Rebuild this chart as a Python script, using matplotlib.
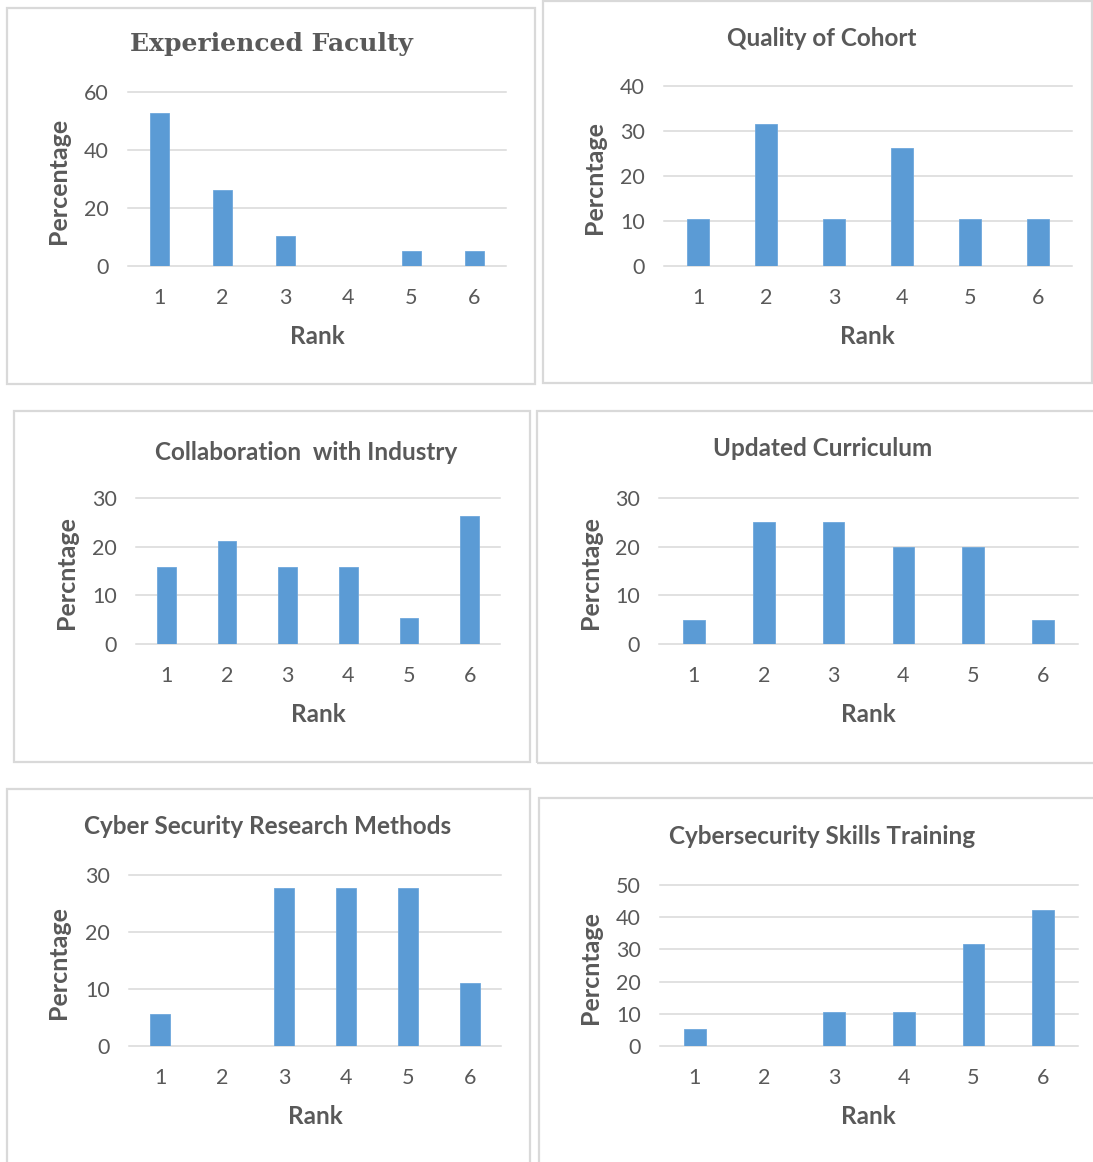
import matplotlib
matplotlib.use("Agg")
import matplotlib.pyplot as plt
from matplotlib.patches import Rectangle

# Survey results: share of respondents (%) giving each rank to a programme feature
ranks = ["1", "2", "3", "4", "5", "6"]

experienced_faculty = [52.6, 26.3, 10.5, 0.0, 5.3, 5.3]
quality_of_cohort = [10.5, 31.6, 10.5, 26.3, 10.5, 10.5]
collaboration_industry = [15.8, 21.1, 15.8, 15.8, 5.3, 26.3]
updated_curriculum = [5.0, 25.0, 25.0, 20.0, 20.0, 5.0]
research_methods = [5.6, 0.0, 27.8, 27.8, 27.8, 11.1]
skills_training = [5.3, 0.0, 10.5, 10.5, 31.6, 42.1]

titles = [
    "Experienced Faculty",
    "Quality of Cohort",
    "Collaboration  with Industry",
    "Updated Curriculum",
    "Cyber Security Research Methods",
    "Cybersecurity Skills Training",
]
y_labels = ["Percentage", "Percntage", "Percntage", "Percntage", "Percntage", "Percntage"]
x_label = "Rank"
y_ticks = [
    [0, 20, 40, 60],
    [0, 10, 20, 30, 40],
    [0, 10, 20, 30],
    [0, 10, 20, 30],
    [0, 10, 20, 30],
    [0, 10, 20, 30, 40, 50],
]
series = [experienced_faculty, quality_of_cohort, collaboration_industry,
          updated_curriculum, research_methods, skills_training]

W, H = 1093, 1162
BAR = "#5B9BD5"
GRID = "#D9D9D9"
TXT = "#595959"
SANS = ["Lato", "DejaVu Sans"]

# Layout in pixels: chart frame (x0, y0, x1, y1), plot area (x0, y0, x1, y1),
# title centre, y-label x, x-label centre
layout = [
    dict(frame=(7, 8, 535, 384), plot=(128, 92, 506, 266), title=(271, 44), ylab=58, xlab=(317, 336)),
    dict(frame=(543, 1, 1092, 383), plot=(664, 86, 1072, 266), title=(822, 38), ylab=594, xlab=(867, 336)),
    dict(frame=(14, 411, 530, 762), plot=(136, 498, 500, 644), title=(306, 452), ylab=66, xlab=(318, 714)),
    dict(frame=(537, 411, 1100, 763), plot=(659, 498, 1078, 644), title=(823, 449), ylab=590, xlab=(868, 714)),
    dict(frame=(7, 789, 530, 1170), plot=(129, 875, 501, 1046), title=(268, 826), ylab=58, xlab=(315, 1116)),
    dict(frame=(539, 798, 1100, 1170), plot=(660, 885, 1078, 1046), title=(822, 836), ylab=591, xlab=(868, 1117)),
]

fig = plt.figure(figsize=(W / 100, H / 100), dpi=100)
fig.patch.set_facecolor("white")


def fx(x):
    return x / W


def fy(y):
    return 1 - y / H


for i, (vals, lay) in enumerate(zip(series, layout)):
    # chart frame
    fx0, fy0, fx1, fy1 = lay["frame"]
    fig.patches.append(Rectangle((fx(fx0), fy(fy1)), fx(fx1 - fx0), (fy1 - fy0) / H,
                                 transform=fig.transFigure, fill=False,
                                 edgecolor=GRID, linewidth=1.6, zorder=0))

    px0, py0, px1, py1 = lay["plot"]
    ax = fig.add_axes([fx(px0), fy(py1), fx(px1 - px0), (py1 - py0) / H])
    ax.set_facecolor("none")
    pos = list(range(len(ranks)))
    ax.bar(pos, vals, width=0.31, color=BAR, edgecolor="#6FA8DC", linewidth=0.6, zorder=3)
    ax.set_xlim(-0.5, len(ranks) - 0.5)
    ticks = y_ticks[i]
    ax.set_ylim(0, ticks[-1])
    ax.set_yticks(ticks)
    ax.set_xticks(pos)
    ax.set_xticklabels(ranks)
    for s in ax.spines.values():
        s.set_visible(False)
    ax.set_axisbelow(True)
    for t in ticks:
        ax.axhline(t, color=GRID, linewidth=1.1, zorder=1, clip_on=False)
    ax.tick_params(axis="both", length=0, labelcolor=TXT, labelsize=15.5)
    ax.tick_params(axis="x", pad=16)
    ax.tick_params(axis="y", pad=14)
    for lbl in ax.get_xticklabels() + ax.get_yticklabels():
        lbl.set_family(SANS)

    tx, ty = lay["title"]
    if i == 0:
        fig.text(fx(tx), fy(ty), titles[i], ha="center", va="center",
                 fontsize=18, fontweight="bold", color=TXT,
                 family=["DejaVu Serif", "Liberation Serif"])
    else:
        fig.text(fx(tx), fy(ty), titles[i], ha="center", va="center",
                 fontsize=17.5, fontweight="bold", color=TXT, family=SANS)

    fig.text(fx(lay["ylab"]), fy((py0 + py1) / 2 + 2), y_labels[i], rotation=90,
             ha="center", va="center", fontsize=18, fontweight="bold",
             color=TXT, family=SANS)
    lx, ly = lay["xlab"]
    fig.text(fx(lx), fy(ly), x_label, ha="center", va="center", fontsize=17.5,
             fontweight="bold", color=TXT, family=SANS)

fig.savefig("out.png", dpi=100, facecolor="white")
